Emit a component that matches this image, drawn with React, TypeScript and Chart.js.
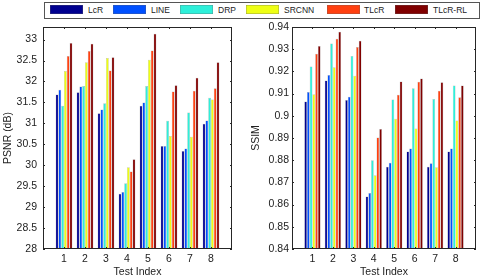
import React, { useEffect, useRef } from 'react';
import { Chart, registerables } from 'chart.js';
Chart.register(...registerables);

const FONT = '"Liberation Sans", Arial, Helvetica, sans-serif';
const FS = 10.5;

const testIndex = ['1', '2', '3', '4', '5', '6', '7', '8'];
const methods = ['LcR', 'LINE', 'DRP', 'SRCNN', 'TLcR', 'TLcR-RL'];
const colors = ['#000090', '#0050FF', '#2EF0DA', '#EEFF14', '#FF4010', '#800000'];

const psnrLcR = [31.69, 31.74, 31.24, 29.32, 31.42, 30.46, 30.34, 30.99];
const psnrLINE = [31.8, 31.88, 31.33, 29.36, 31.5, 30.46, 30.4, 31.07];
const psnrDRP = [31.42, 31.89, 31.48, 29.57, 31.89, 31.06, 31.26, 31.61];
const psnrSRCNN = [32.25, 32.46, 32.56, 29.95, 32.52, 30.7, 30.68, 31.57];
const psnrTLcR = [32.61, 32.73, 32.26, 29.85, 32.74, 31.76, 31.78, 31.84];
const psnrTLcRRL = [32.92, 32.9, 32.58, 30.14, 33.14, 31.91, 32.09, 32.46];

const ssimLcR = [0.9064, 0.9159, 0.9071, 0.8637, 0.877, 0.8839, 0.877, 0.8839];
const ssimLINE = [0.9107, 0.9184, 0.9086, 0.8652, 0.8789, 0.8853, 0.8786, 0.8853];
const ssimDRP = [0.9222, 0.9326, 0.9269, 0.88, 0.9073, 0.9124, 0.9076, 0.9136];
const ssimSRCNN = [0.9097, 0.9219, 0.918, 0.8732, 0.8987, 0.8943, 0.8768, 0.8979];
const ssimTLcR = [0.9279, 0.9347, 0.931, 0.8902, 0.9095, 0.9153, 0.9113, 0.9083];
const ssimTLcRRL = [0.9314, 0.9379, 0.9338, 0.894, 0.9154, 0.9168, 0.9151, 0.9136];

const psnrAxis = { min: 28, max: 33.3, step: 0.5, title: 'PSNR (dB)' };
const ssimAxis = { min: 0.84, max: 0.94, step: 0.01, title: 'SSIM' };

const boxPlugin = {
  id: 'matlabBox',
  afterDraw(chart: any) {
    const { ctx, chartArea: a, scales } = chart;
    ctx.save();
    ctx.strokeStyle = '#262626';
    ctx.lineWidth = 1;
    ctx.strokeRect(Math.round(a.left) + 0.5, Math.round(a.top) + 0.5, Math.round(a.right - a.left) - 1, Math.round(a.bottom - a.top) - 1);
    const L = 2;
    const line = (x1: number, y1: number, x2: number, y2: number) => {
      ctx.beginPath();
      ctx.moveTo(x1, y1);
      ctx.lineTo(x2, y2);
      ctx.stroke();
    };
    const y = scales.y;
    y.ticks.forEach((_t: any, i: number) => {
      const py = Math.round(y.getPixelForTick(i)) + 0.5;
      line(a.left, py, a.left + L, py);
      line(a.right - L, py, a.right, py);
    });
    const x = scales.x;
    x.ticks.forEach((t: any, i: number) => {
      const lbl = x.getLabelForValue(t.value);
      if (!lbl) return;
      const px = Math.round(x.getPixelForTick(i)) + 0.5;
      line(px, a.top, px, a.top + L);
      line(px, a.bottom - L, px, a.bottom);
    });
    ctx.restore();
  },
};

function BarPanel(props: {
  series: number[][];
  axis: { min: number; max: number; step: number; title: string };
  decimals: number;
  left: number;
  yWidth: number;
  padRight: number;
  tickPad: number;
  titlePad: number;
}) {
  const ref = useRef<HTMLCanvasElement>(null);
  useEffect(() => {
    const { series, axis, decimals, yWidth, padRight, tickPad, titlePad } = props;
    const f = Math.pow(10, decimals);
    const chart = new Chart(ref.current as HTMLCanvasElement, {
      type: 'bar',
      data: {
        labels: ['', ...testIndex, ''],
        datasets: methods.map((m, i) => ({
          label: m,
          data: [null, ...series[i], null] as any,
          backgroundColor: colors[i],
          borderColor: 'rgba(120,120,120,0.55)',
          borderWidth: 0.5,
          categoryPercentage: 0.8,
          barPercentage: 1,
        })),
      },
      options: {
        responsive: false,
        animation: false,
        layout: { padding: { top: 27, right: padRight, bottom: 0, left: 0 } },
        plugins: { legend: { display: false }, tooltip: { enabled: false } },
        scales: {
          x: {
            type: 'category',
            offset: false,
            grid: { display: false, drawTicks: false },
            border: { display: false },
            ticks: { autoSkip: false, maxRotation: 0, padding: 4, color: '#222', font: { family: FONT, size: FS } },
            title: { display: true, text: 'Test Index', color: '#222', font: { family: FONT, size: FS }, padding: { top: 0, bottom: 1 } },
            afterFit: (s: any) => { s.height = 30; },
          },
          y: {
            type: 'linear',
            min: axis.min,
            max: axis.max,
            grid: { display: false, drawTicks: false },
            border: { display: false },
            ticks: {
              stepSize: axis.step,
              includeBounds: false,
              padding: tickPad,
              color: '#222',
              font: { family: FONT, size: FS },
              callback: (v: any) => String(Math.round(Number(v) * f) / f),
            },
            title: { display: true, text: axis.title, color: '#222', font: { family: FONT, size: FS }, padding: { top: titlePad, bottom: 0 } },
            afterFit: (s: any) => { s.width = yWidth; },
          },
        },
      } as any,
      plugins: [boxPlugin],
    });
    return () => chart.destroy();
  }, []);
  return (
    <canvas
      ref={ref}
      width={240}
      height={279}
      style={{ position: 'absolute', left: props.left, top: 0, width: 240, height: 279 }}
    />
  );
}

const legendSwatchX = [50, 113, 180, 246, 327, 395];
const legendTextX = [88, 151, 218, 284, 364, 433];

export default function App() {
  return (
    <div style={{ position: 'fixed', left: 0, top: 0, width: 480, height: 279, background: '#fff', overflow: 'hidden' }}>
      <BarPanel
        series={[psnrLcR, psnrLINE, psnrDRP, psnrSRCNN, psnrTLcR, psnrTLcRRL]}
        axis={psnrAxis}
        decimals={1}
        left={0}
        yWidth={43}
        padRight={8}
        tickPad={6}
        titlePad={2}
      />
      <BarPanel
        series={[ssimLcR, ssimLINE, ssimDRP, ssimSRCNN, ssimTLcR, ssimTLcRRL]}
        axis={ssimAxis}
        decimals={2}
        left={240}
        yWidth={52}
        padRight={2}
        tickPad={3}
        titlePad={10}
      />
      <div
        style={{
          position: 'absolute',
          left: 44,
          top: 2,
          width: 434,
          height: 15,
          border: '1px solid #555',
          background: '#fff',
          fontFamily: FONT,
          fontSize: 8.5,
          color: '#222',
        }}
      >
        {methods.map((m, i) => (
          <React.Fragment key={m}>
            <div
              style={{
                position: 'absolute',
                left: legendSwatchX[i] - 45,
                top: 2,
                width: 33,
                height: 9,
                background: colors[i],
                boxShadow: 'inset 0 0 0 0.5px rgba(100,100,100,0.6)',
              }}
            />
            <div style={{ position: 'absolute', left: legendTextX[i] - 45, top: 2, lineHeight: '10px', whiteSpace: 'nowrap' }}>{m}</div>
          </React.Fragment>
        ))}
      </div>
    </div>
  );
}
